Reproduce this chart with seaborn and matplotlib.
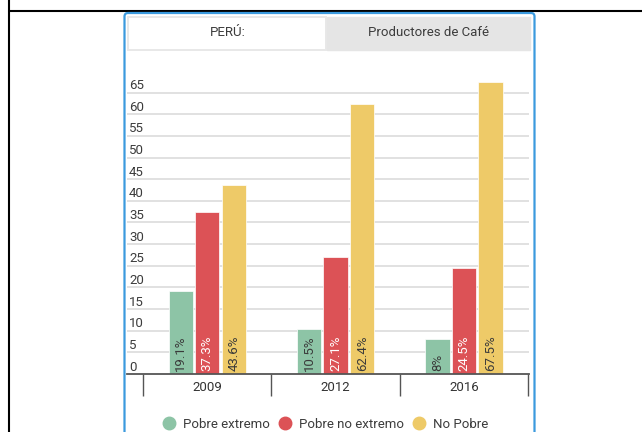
import pandas as pd
import matplotlib.pyplot as plt
import seaborn as sns
from matplotlib.patches import FancyBboxPatch, Rectangle
from matplotlib.lines import Line2D

# datos
years = ["2009", "2012", "2016"]
groups = ["Pobre extremo", "Pobre no extremo", "No Pobre"]
pobre_extremo = [19.1, 10.5, 8]
pobre_no_extremo = [37.3, 27.1, 24.5]
no_pobre = [43.6, 62.4, 67.5]
yticks = [0, 5, 10, 15, 20, 25, 30, 35, 40, 45, 50, 55, 60, 65]
tab_labels = ["PERÚ:", "Productores de Café"]

colors = ["#8dc4a6", "#dc5256", "#eeca68"]
label_colors = ["#3a3a3a", "white", "#3a3a3a"]

df = pd.DataFrame({
    "year": years * 3,
    "group": [g for g in groups for _ in years],
    "value": pobre_extremo + pobre_no_extremo + no_pobre,
})

sns.set_style("white")
plt.rcParams["font.family"] = ["Roboto", "DejaVu Sans"]

W, H = 642, 432
fig = plt.figure(figsize=(W / 100, H / 100), dpi=100)
px = fig.dpi_scale_trans  # 1 unidad = 100 px


def P(v):
    return v / 100


# marco negro de la tabla
fig.add_artist(Line2D([P(9), P(9)], [0, P(H)], transform=px, color="black", lw=1.5, zorder=-5))
fig.add_artist(Line2D([P(9), P(W)], [P(H - 11), P(H - 11)], transform=px, color="black", lw=1.5, zorder=-5))

# tarjeta azul
fig.add_artist(FancyBboxPatch((P(124.5), P(-20)), P(410), P(H - 13 + 20),
                              boxstyle="round,pad=0,rounding_size=0.035", transform=px,
                              facecolor="white", edgecolor="#3b9ade", lw=1.6, zorder=-4))

# pestañas
fig.add_artist(Rectangle((P(128), P(H - 50)), P(198), P(33), transform=px,
                         facecolor="white", edgecolor="#e8e8e8", lw=1.4, zorder=-3))
fig.add_artist(Rectangle((P(327), P(H - 50)), P(203), P(33), transform=px,
                         facecolor="#e5e5e5", edgecolor="#e5e5e5", lw=1, zorder=-3))
fig.text(P(228), P(H - 33), tab_labels[0], transform=px, ha="center", va="center",
         fontsize=9.5, color="#3c3c3c")
fig.text(P(429), P(H - 33), tab_labels[1], transform=px, ha="center", va="center",
         fontsize=9.5, color="#3c3c3c")

# eje del gráfico
ax_left, ax_right, y0, y70 = 127, 529, 374, 374 - 4.33 * 70
ax = fig.add_axes([ax_left / W, (H - y0) / H, (ax_right - ax_left) / W, (y0 - y70) / H])
ax.set_facecolor("none")

sns.barplot(data=df, x="year", y="value", hue="group", palette=colors, saturation=1,
            width=0.62, gap=0.08, edgecolor="white", linewidth=0.5,
            legend=False, ax=ax)

ax.set_xlim(-0.625, 2.505)
ax.set_ylim(0, 70)
ax.set_xlabel("")
ax.set_ylabel("")

# rejilla y etiquetas del eje y
ax.set_yticks(yticks)
ax.set_yticklabels([])
ax.tick_params(axis="y", length=0)
for v in yticks[1:]:
    ax.axhline(v, color="#d9d9d9", lw=1.1, zorder=0)
for v in yticks:
    ax.annotate(str(v), xy=(0.005, v), xycoords=ax.get_yaxis_transform(),
                xytext=(0, 2.5), textcoords="offset points",
                ha="left", va="baseline", fontsize=9.5, color="#3c3c3c")

for s in ["top", "right", "left"]:
    ax.spines[s].set_visible(False)
ax.spines["bottom"].set_color("#555555")
ax.spines["bottom"].set_linewidth(1.3)

ax.set_xticks([0, 1, 2])
ax.set_xticklabels(years, fontsize=9.5, color="#333333")
ax.tick_params(axis="x", which="major", length=0, pad=5)
ax.set_xticks([-0.5, 0.5, 1.5, 2.5], minor=True)
ax.tick_params(axis="x", which="minor", bottom=True, length=16, width=1,
               color="#555555", direction="out")

# valores dentro de las barras
for cont, lc in zip(ax.containers, label_colors):
    for bar in cont:
        val = bar.get_height()
        ax.annotate(f"{val:g}%", xy=(bar.get_x() + bar.get_width() / 2, 0),
                    xytext=(0, 2.5), textcoords="offset points",
                    rotation=90, ha="center", va="bottom",
                    fontsize=9.5, color=lc)

# leyenda
handles = [Line2D([], [], marker="o", ls="", markersize=9, markerfacecolor=c,
                  markeredgecolor=c) for c in colors]
fig.legend(handles, groups, loc="center", bbox_to_anchor=(326 / W, (H - 424) / H),
           ncol=3, frameon=False, fontsize=9.5, handlelength=0.9, handletextpad=0.6,
           columnspacing=0.7, labelcolor="#3c3c3c", borderpad=0)

fig.savefig("out.png", dpi=100)
